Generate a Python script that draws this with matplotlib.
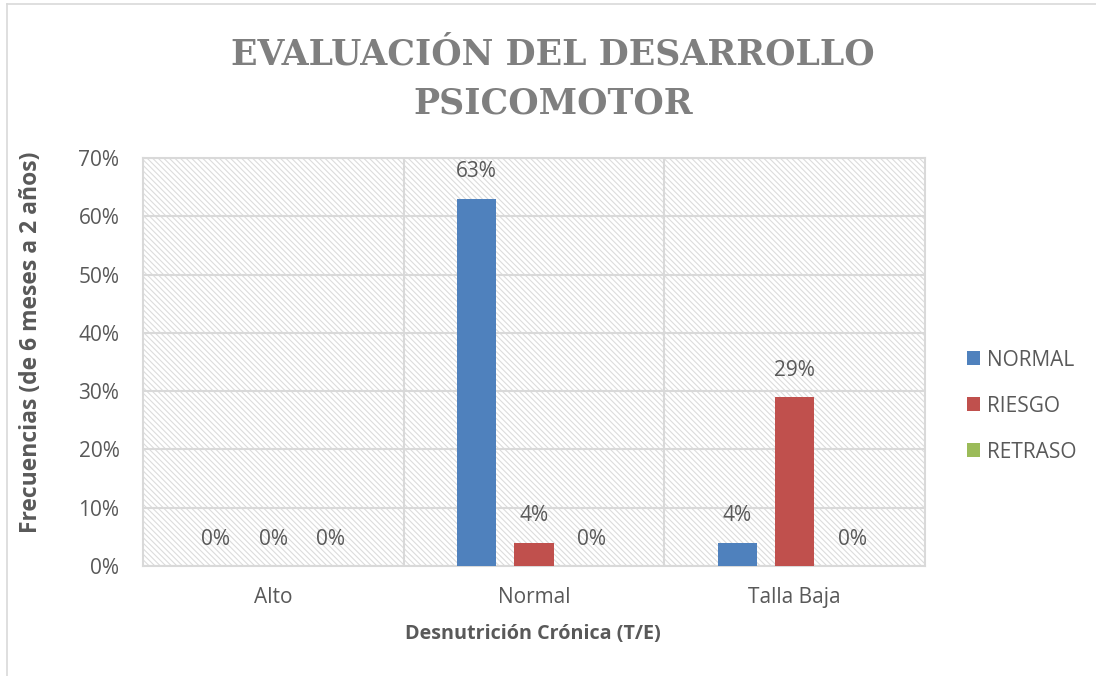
import numpy as np
import matplotlib.pyplot as plt
from matplotlib.patches import Rectangle, Patch
from matplotlib.lines import Line2D

categorias = ['Alto', 'Normal', 'Talla Baja']
series = ['NORMAL', 'RIESGO', 'RETRASO']
normal = [0, 63, 4]
riesgo = [0, 4, 29]
retraso = [0, 0, 0]
valores = [normal, riesgo, retraso]
colores = ['#4f81bd', '#c0504d', '#9bbb59']

gris = '#595959'
linea = '#d9d9d9'
fuente = 'Open Sans'
tam = 15

plt.rcParams['hatch.linewidth'] = 0.8

fig = plt.figure(figsize=(10.96, 6.76), dpi=100)
W, H = 1096, 676
ax = fig.add_axes([143 / W, 1 - 566 / H, (925 - 143) / W, (566 - 158) / H])

# fondo rayado del area de trazado
fondo = Rectangle((0, 0), 1, 1, transform=ax.transAxes, facecolor='white',
                  edgecolor='#dcdcdc', hatch='\\' * 6, lw=0, zorder=0)
ax.add_patch(fondo)

x = np.arange(len(categorias))
ancho = 0.15
desp = 0.22
for i, (vals, col) in enumerate(zip(valores, colores)):
    pos = x + (i - 1) * desp
    ax.bar(pos, vals, width=ancho, color=col, zorder=3)
    for p, v in zip(pos, vals):
        ax.text(p, v + 4.6, f'{v}%', ha='center', va='center',
                fontsize=tam, color=gris, family=fuente, zorder=4)

ax.set_xlim(-0.5, 2.5)
ax.set_ylim(0, 70)
ax.set_yticks(np.arange(0, 71, 10))
ax.set_yticklabels([f'{t}%' for t in range(0, 71, 10)])
ax.set_xticks(x)
ax.set_xticklabels(categorias)
for lab in ax.get_xticklabels() + ax.get_yticklabels():
    lab.set_family(fuente)
    lab.set_fontsize(tam)
    lab.set_color(gris)
ax.tick_params(length=0)
ax.tick_params(axis='x', pad=15)
ax.tick_params(axis='y', pad=17)
ax.yaxis.grid(True, color=linea, lw=1.5, zorder=1)
ax.set_axisbelow(True)
for xv in [0.5, 1.5]:
    ax.axvline(xv, color=linea, lw=1.5, zorder=1)
for s in ax.spines.values():
    s.set_color(linea)
    s.set_linewidth(1.5)

fig.text(31 / W, 1 - 342 / H, 'Frecuencias (de 6 meses a 2 años)', rotation=90,
         ha='center', va='center', fontsize=16.5, fontweight='bold', color=gris,
         family=fuente)
fig.text(533 / W, 1 - 634 / H, 'Desnutrición Crónica (T/E)', ha='center',
         va='center', fontsize=14.2, fontweight='bold', color=gris, family=fuente)

fig.text(553 / W, 1 - 79 / H, 'EVALUACIÓN DEL DESARROLLO\nPSICOMOTOR',
         ha='center', va='center', fontsize=25, fontweight='bold',
         color='#7f7f7f', family='DejaVu Serif', linespacing=1.55)

manijas = [Patch(facecolor=c, edgecolor='none') for c in colores]
leg = fig.legend(manijas, series, loc='center left',
                 bbox_to_anchor=(948 / W, 1 - 406 / H), frameon=False,
                 handlelength=0.65, handleheight=0.65, handletextpad=0.3,
                 labelspacing=1.2, prop={'family': fuente, 'size': tam})
for t in leg.get_texts():
    t.set_color(gris)

# borde exterior del grafico
fig.add_artist(Line2D([7 / W, 7 / W], [0, 1 - 4 / H], transform=fig.transFigure,
                      color=linea, lw=1.2))
fig.add_artist(Line2D([7 / W, 1], [1 - 4 / H, 1 - 4 / H], transform=fig.transFigure,
                      color=linea, lw=1.2))

fig.savefig('out.png', dpi=100)
